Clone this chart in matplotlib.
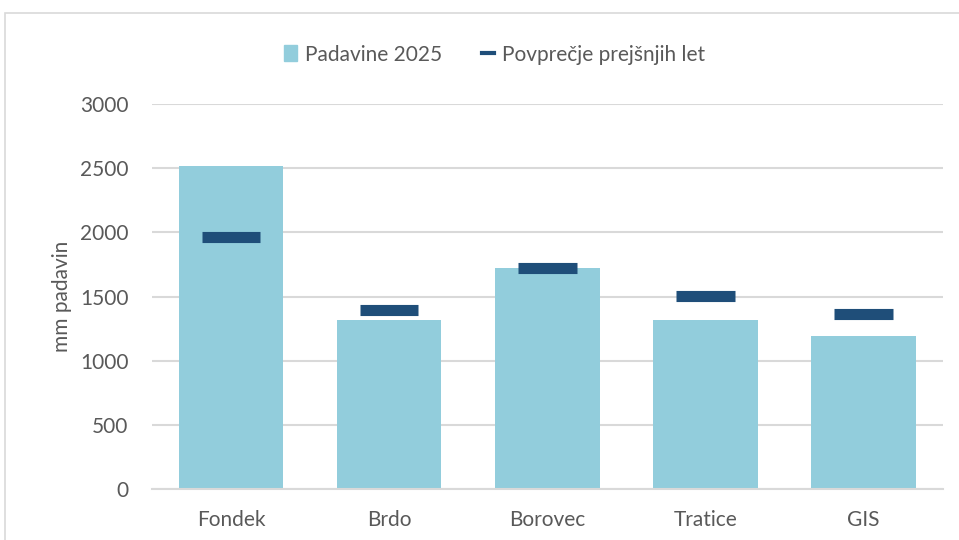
import matplotlib.pyplot as plt
from matplotlib.lines import Line2D
from matplotlib.patches import Patch, Rectangle
import numpy as np

plt.rcParams['font.family'] = ['Lato', 'DejaVu Sans']

postaje = ['Fondek', 'Brdo', 'Borovec', 'Tratice', 'GIS']
padavine_2025 = [2520, 1320, 1720, 1320, 1190]
povprecje = [1963, 1396, 1725, 1505, 1365]

bar_color = '#92CDDC'
avg_color = '#1F4E79'
grid_color = '#D9D9D9'
text_color = '#595959'
fs = 15

fig = plt.figure(figsize=(9.59, 5.40), dpi=100)
ax = fig.add_axes([0.1585, 0.0944, 0.8245, 0.7130])

x = np.arange(len(postaje))
ax.bar(x, padavine_2025, width=0.66, color=bar_color, zorder=2)
ax.hlines(povprecje, x - 0.185, x + 0.185, colors=avg_color, linewidth=8, zorder=3)

ax.set_xlim(-0.5, len(postaje) - 0.5)
ax.set_ylim(0, 3000)
ax.set_yticks(range(0, 3001, 500))
ax.set_xticks(x)
ax.set_xticklabels(postaje)
ax.yaxis.grid(True, color=grid_color, linewidth=1.5, zorder=0)
ax.set_axisbelow(True)
for side in ['top', 'right', 'left']:
    ax.spines[side].set_visible(False)
ax.spines['bottom'].set_color(grid_color)
ax.spines['bottom'].set_linewidth(1.5)
ax.tick_params(axis='both', length=0, colors=text_color, labelsize=fs)
ax.tick_params(axis='y', pad=17)
ax.tick_params(axis='x', pad=15)
ax.set_ylabel('mm padavin', color=text_color, fontsize=fs, labelpad=6)

handles = [Patch(color=bar_color, label='Padavine 2025'),
           Line2D([0], [0], color=avg_color, linewidth=3, label='Povprečje prejšnjih let')]
fig.legend(handles=handles, loc='center', bbox_to_anchor=(0.516, 0.899), ncol=2,
           frameon=False, fontsize=fs, labelcolor=text_color,
           handlelength=0.6, handleheight=0.8, handletextpad=0.4, columnspacing=1.9)

# light frame around the chart area
fig.patches.append(Rectangle((5 / 959, -0.02), 1.0, 1 - 13 / 540 + 0.02,
                             transform=fig.transFigure, fill=False,
                             edgecolor=grid_color, linewidth=1.2))

fig.savefig('out.png', dpi=100)
